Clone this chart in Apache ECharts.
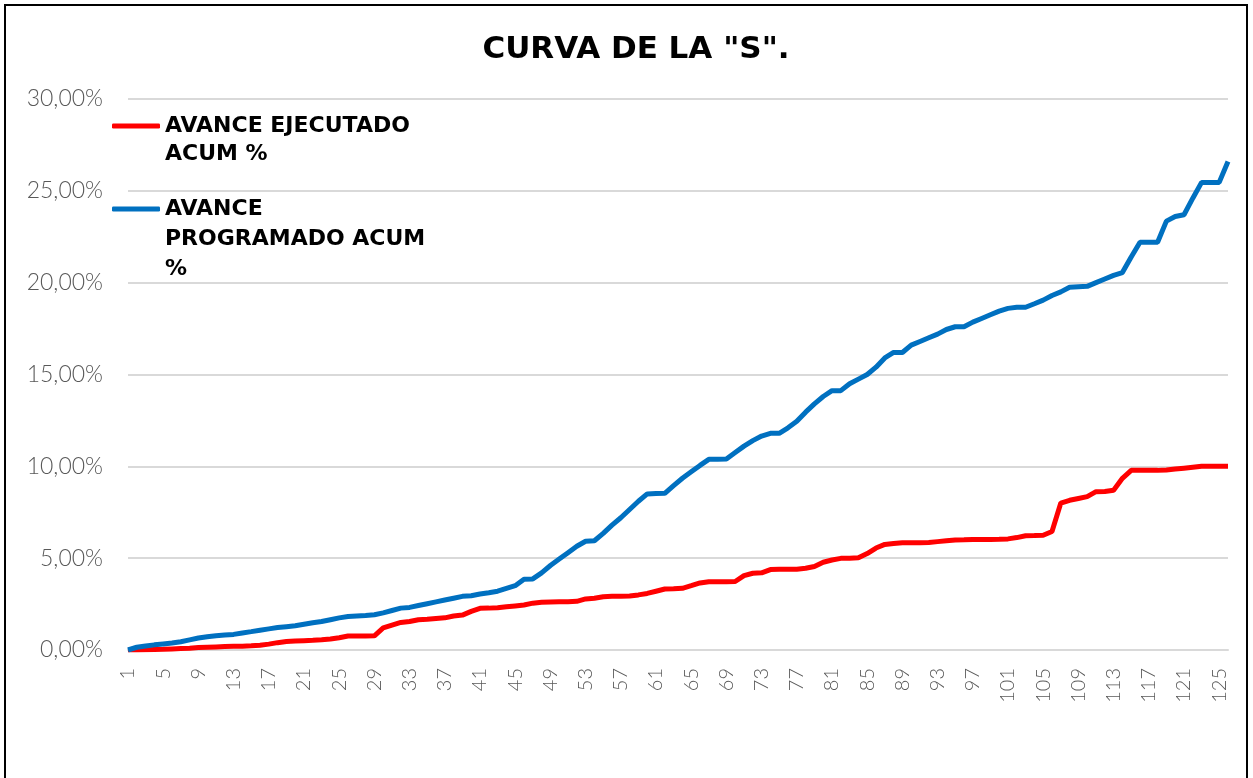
<!DOCTYPE html>
<html>
<head>
<meta charset="utf-8">
<script src="https://cdn.jsdelivr.net/npm/echarts@6/dist/echarts.min.js"></script>
<style>
html,body{margin:0;padding:0;background:#fff;overflow:hidden;}
#frame{position:absolute;left:4px;top:4px;width:1244px;height:800px;border:2px solid #000;box-sizing:border-box;}
#chart{position:absolute;left:0;top:0;width:1253px;height:778px;}
</style>
</head>
<body>
<div id="frame"></div>
<div id="chart"></div>
<script>
const titleText = 'CURVA DE LA "S".';
const seriesNames = ['AVANCE EJECUTADO ACUM %', 'AVANCE PROGRAMADO ACUM %'];
const legendLabels = ['\nAVANCE EJECUTADO\nACUM %', '\n\nAVANCE\nPROGRAMADO ACUM\n%'];
const categories = Array.from({length: 126}, (_, i) => String(i + 1));
const yTicks = [0, 5, 10, 15, 20, 25, 30];

const ejecutado = [
  0.00, 0.00, 0.02, 0.03, 0.04, 0.06, 0.08, 0.10, 0.13, 0.15,
  0.17, 0.19, 0.20, 0.21, 0.23, 0.26, 0.32, 0.40, 0.46, 0.49,
  0.51, 0.53, 0.56, 0.60, 0.67, 0.76, 0.76, 0.76, 0.77, 1.20,
  1.35, 1.50, 1.55, 1.65, 1.67, 1.72, 1.75, 1.85, 1.90, 2.10,
  2.27, 2.28, 2.30, 2.35, 2.40, 2.45, 2.55, 2.60, 2.62, 2.63,
  2.63, 2.65, 2.78, 2.82, 2.90, 2.92, 2.93, 2.94, 3.00, 3.08,
  3.20, 3.32, 3.33, 3.36, 3.50, 3.65, 3.72, 3.72, 3.72, 3.73,
  4.05, 4.18, 4.20, 4.38, 4.39, 4.39, 4.40, 4.45, 4.55, 4.78,
  4.90, 4.99, 5.00, 5.02, 5.25, 5.55, 5.75, 5.80, 5.84, 5.84,
  5.84, 5.85, 5.90, 5.95, 5.99, 6.00, 6.02, 6.02, 6.02, 6.03,
  6.05, 6.12, 6.22, 6.23, 6.25, 6.45, 8.00, 8.15, 8.25, 8.35,
  8.62, 8.63, 8.70, 9.35, 9.78, 9.78, 9.78, 9.78, 9.80, 9.85,
  9.90, 9.95, 10.00, 10.00, 10.00, 10.00
];

const programado = [
  0.00, 0.15, 0.22, 0.28, 0.33, 0.38, 0.45, 0.55, 0.65, 0.72,
  0.78, 0.82, 0.85, 0.93, 1.00, 1.08, 1.15, 1.22, 1.27, 1.32,
  1.40, 1.48, 1.55, 1.65, 1.75, 1.82, 1.85, 1.88, 1.92, 2.02,
  2.15, 2.28, 2.32, 2.42, 2.52, 2.62, 2.72, 2.82, 2.92, 2.95,
  3.05, 3.12, 3.20, 3.35, 3.50, 3.85, 3.87, 4.20, 4.60, 4.95,
  5.30, 5.65, 5.92, 5.95, 6.35, 6.80, 7.20, 7.65, 8.10, 8.50,
  8.52, 8.53, 8.95, 9.35, 9.70, 10.05, 10.38, 10.38, 10.40, 10.75,
  11.10, 11.40, 11.65, 11.80, 11.80, 12.10, 12.45, 12.95, 13.40, 13.80,
  14.12, 14.12, 14.50, 14.75, 15.00, 15.40, 15.90, 16.20, 16.20, 16.60,
  16.80, 17.00, 17.20, 17.45, 17.60, 17.60, 17.85, 18.05, 18.25, 18.45,
  18.60, 18.66, 18.66, 18.85, 19.05, 19.30, 19.50, 19.75, 19.78, 19.80,
  20.00, 20.20, 20.40, 20.55, 21.40, 22.20, 22.20, 22.20, 23.35, 23.60,
  23.70, 24.60, 25.46, 25.46, 25.46, 26.60
];

const colors = ['#FF0000', '#0070C0'];
const labelFont = 'Lato';

const chart = echarts.init(document.getElementById('chart'));
function legendCfg(idx, top, lh) {
  return {
    show: true,
    data: [seriesNames[idx]],
    orient: 'vertical',
    left: 112,
    top: top,
    padding: 0,
    icon: 'roundRect',
    itemWidth: 48,
    itemHeight: 5,
    itemGap: 0,
    selectedMode: false,
    formatter: () => legendLabels[idx],
    textStyle: {
      fontFamily: 'DejaVu Sans',
      fontWeight: 'bold',
      fontSize: 22,
      lineHeight: lh,
      color: '#000',
      padding: [0, 0, 0, 0]
    }
  };
}
chart.setOption({
  animation: false,
  color: colors,
  title: {
    text: titleText,
    left: 631,
    top: 29,
    textAlign: 'center',
    textStyle: {fontFamily: 'DejaVu Sans', fontWeight: 'bold', fontSize: 31, color: '#000'}
  },
  legend: [legendCfg(0, 84, 28), legendCfg(1, 134, 30)],
  grid: {left: 128, right: 25, top: 99, bottom: 128, containLabel: false},
  xAxis: {
    type: 'category',
    data: categories,
    boundaryGap: false,
    axisLine: {show: true, lineStyle: {color: '#d9d9d9', width: 2}},
    axisTick: {show: false},
    axisLabel: {
      interval: 3,
      rotate: 90,
      margin: 18,
      fontFamily: labelFont,
      fontWeight: 300,
      fontSize: 20,
      color: '#595959'
    }
  },
  yAxis: {
    type: 'value',
    min: yTicks[0],
    max: yTicks[yTicks.length - 1],
    interval: 5,
    axisLine: {show: false},
    axisTick: {show: false},
    splitLine: {lineStyle: {color: '#d9d9d9', width: 2}},
    axisLabel: {
      margin: 25,
      fontFamily: labelFont,
      fontWeight: 300,
      fontSize: 23,
      color: '#595959',
      formatter: v => v.toFixed(2).replace('.', ',') + '%'
    }
  },
  series: [
    {name: seriesNames[0], type: 'line', data: ejecutado, symbol: 'none', lineStyle: {width: 5, color: colors[0]}, itemStyle: {color: colors[0]}},
    {name: seriesNames[1], type: 'line', data: programado, symbol: 'none', lineStyle: {width: 5, color: colors[1]}, itemStyle: {color: colors[1]}}
  ]
});
</script>
</body>
</html>
